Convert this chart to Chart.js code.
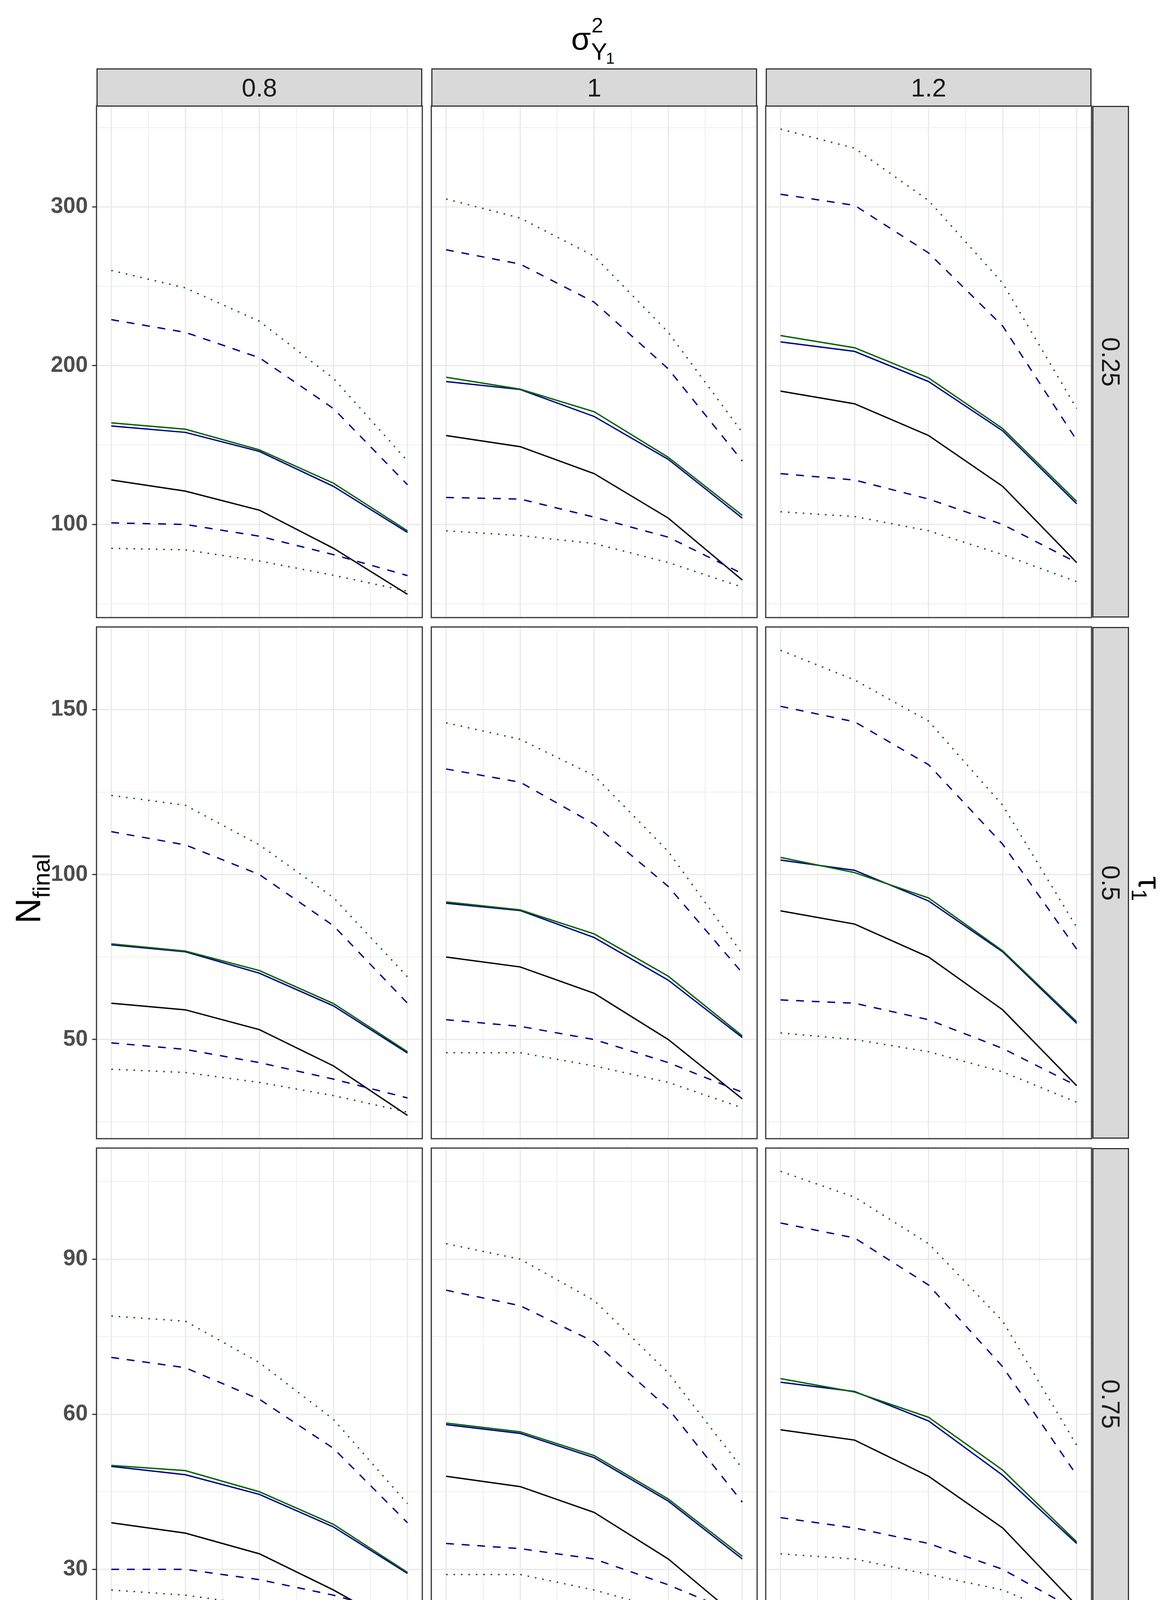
<!DOCTYPE html>
<html>
<head>
<meta charset="utf-8">
<title>N final by sigma and tau</title>
<script src="https://cdn.jsdelivr.net/npm/chart.js@4.4.1/dist/chart.umd.min.js"></script>
<style>
  html, body { margin: 0; padding: 0; background: #ffffff; }
  body { position: relative; width: 3000px; height: 4500px; overflow: hidden;
         font-family: "Liberation Sans", Arial, sans-serif; }
  #page { position: absolute; left: 0; top: 0; width: 3000px; height: 4500px; }
  .panel { position: absolute; }
  .strip { position: absolute; box-sizing: border-box; background: #d9d9d9;
           border: 3px solid #333333; color: #1a1a1a; font-size: 65px;
           display: flex; align-items: center; justify-content: center; }
  .strip.right span { display: inline-block; transform: rotate(90deg); white-space: nowrap; }
  .glyph { position: absolute; line-height: 1; white-space: nowrap; color: #000000; }
  .rot { position: absolute; white-space: nowrap; line-height: 1; color: #000000; }
</style>
</head>
<body>
<div id="page"></div>
<script>
const page = document.getElementById('page');

// facet labels
const colLabels = ['0.8', '1', '1.2'];   // sigma^2_Y1
const rowLabels = ['0.25', '0.5', '0.75']; // tau_1

// x values and tick positions
const xValues = [0, 0.2, 0.4, 0.6, 0.8];
const xTickValues = [0, 0.1, 0.2, 0.3, 0.4, 0.5, 0.6, 0.7, 0.8];
const yTickValues = [
    [50, 100, 150, 200, 250, 300, 350],
    [25, 50, 75, 100, 125, 150, 175],
    [15, 30, 45, 60, 75, 90, 105]
];
const yMajorStep = [100, 50, 30];

// series values, one row of 5 per panel (row by row: tau 0.25 / 0.5 / 0.75, columns sigma 0.8 / 1 / 1.2)
const blackSolid = [
    [128, 121, 109, 85, 56],
    [156, 149, 132, 104, 65],
    [184, 176, 156, 124, 76],
    [61, 59, 53, 42, 27],
    [75, 72, 64, 50, 32],
    [89, 85, 75, 59, 36],
    [39, 37, 33, 26, 18],
    [48, 46, 41, 32, 20],
    [57, 55, 48, 38, 23]
];
const blueSolid = [
    [162, 158, 146, 124, 95],
    [190, 185, 168, 141, 104],
    [215, 209, 190, 159, 113],
    [78.7, 76.6, 70.1, 60.2, 45.9],
    [91.3, 89.1, 80.9, 68, 50.6],
    [104.4, 101.3, 92, 76.6, 54.9],
    [49.9, 48.3, 44.5, 38.2, 29.2],
    [58, 56.3, 51.6, 43.2, 32],
    [66.2, 64.4, 58.7, 48.2, 35]
];
const greenSolid = [
    [164, 160, 147, 126, 96],
    [192.7, 185.2, 171, 142.3, 105.7],
    [219, 211.3, 192.3, 160.4, 114.5],
    [79, 76.8, 70.9, 60.9, 46.3],
    [91.7, 89.3, 82, 69.2, 51.1],
    [105.2, 100.6, 92.9, 76.9, 55.4],
    [50.1, 49.1, 45, 38.7, 29.4],
    [58.3, 56.6, 52, 43.6, 32.5],
    [66.9, 64.3, 59.4, 49.2, 35.3]
];
const blueDashUpper = [
    [229, 221, 205, 173, 125],
    [273, 264, 240, 198, 140],
    [308, 301, 271, 225, 153],
    [113, 109, 100, 84.5, 61],
    [132, 128, 115.3, 96.4, 70.2],
    [151, 146.3, 133.3, 109.2, 77.4],
    [71, 69, 62.9, 53.4, 39],
    [84, 81, 74, 61.1, 43],
    [97, 94.1, 85, 69.2, 48.2]
];
const blueDashLower = [
    [101, 100, 92.6, 81, 67.8],
    [117, 116, 104.6, 92, 69],
    [132, 128, 116, 100, 76],
    [49, 47, 43, 38, 32.3],
    [56, 54, 50, 43, 34],
    [62, 61, 56, 47.3, 36],
    [30, 30, 28, 25, 21],
    [35, 34, 32, 27, 21],
    [40, 38, 35, 30, 22]
];
const greenDotUpper = [
    [260, 249, 228, 192, 140],
    [305, 293, 269, 221, 158],
    [349, 337, 304, 252, 173],
    [124, 121, 109, 93, 69],
    [146, 141, 130, 107, 76],
    [168, 159, 146.5, 121, 84],
    [79, 78, 70, 59, 42.7],
    [93, 90, 82, 68, 49.5],
    [107, 102, 93, 78, 54]
];
const greenDotLower = [
    [85, 84, 77, 68, 58],
    [96, 93, 88, 76, 60.5],
    [108, 105, 96, 81, 64],
    [41, 40, 37, 33, 28],
    [46, 46, 42, 37, 29.3],
    [52, 50, 46.3, 40.2, 31],
    [26, 25, 23, 21, 17],
    [29, 29, 26, 22, 18],
    [33, 32, 29, 26, 20]
];

// line styles
const DARKGREEN = '#006400';
const DARKBLUE = '#00008b';
const DASHED = [20, 20];
const DOTTED = [4, 15];
const seriesList = [
    { values: greenDotUpper, color: DARKGREEN, dash: DOTTED },
    { values: greenDotLower, color: DARKGREEN, dash: DOTTED },
    { values: blueDashUpper, color: DARKBLUE, dash: DASHED },
    { values: blueDashLower, color: DARKBLUE, dash: DASHED },
    { values: greenSolid, color: DARKGREEN, dash: [] },
    { values: blueSolid, color: DARKBLUE, dash: [] },
    { values: blackSolid, color: '#000000', dash: [] }
];

// page layout (pixels)
const PANEL_X = [247, 1104, 1960];
const PANEL_Y = [271, 1605, 2939];
const PANEL_W = 834;
const PANEL_H = 1310;
const Y_AXIS_W = 140;
const X_AXIS_H = 110;
const M = 4; // room for the panel border stroke

// y range of a facet row, expanded 5% like ggplot
function rowRange(r) {
    let lo = Infinity, hi = -Infinity;
    seriesList.forEach(s => {
        for (let c = 0; c < 3; c++) {
            s.values[r * 3 + c].forEach(v => { lo = Math.min(lo, v); hi = Math.max(hi, v); });
        }
    });
    const pad = (hi - lo) * 0.05;
    return [lo - pad, hi + pad];
}

const isMajorX = v => Math.round(v * 10) % 2 === 0;

// panel border drawn on top of everything
const panelBox = {
    id: 'panelBox',
    afterDraw(chart) {
        const { ctx, chartArea: a } = chart;
        ctx.save();
        ctx.strokeStyle = '#333333';
        ctx.lineWidth = 3;
        ctx.strokeRect(a.left, a.top, a.right - a.left, a.bottom - a.top);
        ctx.restore();
    }
};

const tickFont = { family: 'Liberation Sans', size: 57, weight: 'bold', lineHeight: 1 };

function makePanel(r, c) {
    const yw = c === 0 ? Y_AXIS_W : 0;
    const xh = r === 2 ? X_AXIS_H : 0;
    const div = document.createElement('div');
    div.className = 'panel';
    div.style.left = (PANEL_X[c] - M - yw) + 'px';
    div.style.top = (PANEL_Y[r] - M) + 'px';
    div.style.width = (PANEL_W + yw + 2 * M) + 'px';
    div.style.height = (PANEL_H + xh + 2 * M) + 'px';
    const canvas = document.createElement('canvas');
    div.appendChild(canvas);
    page.appendChild(div);

    const [yMin, yMax] = rowRange(r);
    const step = yMajorStep[r];

    new Chart(canvas, {
        type: 'line',
        data: {
            datasets: seriesList.map(s => ({
                data: xValues.map((x, i) => ({ x: x, y: s.values[r * 3 + c][i] })),
                borderColor: s.color,
                borderWidth: 3.5,
                borderDash: s.dash,
                borderCapStyle: 'butt',
                pointRadius: 0,
                tension: 0,
                fill: false
            }))
        },
        options: {
            responsive: true,
            maintainAspectRatio: false,
            animation: false,
            devicePixelRatio: 1,
            events: [],
            layout: { padding: M },
            plugins: { legend: { display: false }, tooltip: { enabled: false } },
            scales: {
                x: {
                    type: 'linear',
                    bounds: 'data',
                    min: -0.04,
                    max: 0.84,
                    afterBuildTicks: ax => { ax.ticks = xTickValues.map(v => ({ value: v })); },
                    afterFit: ax => { ax.height = xh; ax.paddingLeft = 0; ax.paddingRight = 0; },
                    border: { display: false },
                    grid: {
                        color: '#ebebeb',
                        lineWidth: ctx => isMajorX(ctx.tick.value) ? 3.5 : 1.8,
                        drawTicks: r === 2,
                        tickLength: 11,
                        tickWidth: 3,
                        tickColor: ctx => isMajorX(ctx.tick.value) ? '#333333' : 'rgba(0,0,0,0)'
                    },
                    ticks: {
                        display: r === 2,
                        autoSkip: false,
                        maxRotation: 0,
                        padding: 3,
                        color: '#4d4d4d',
                        font: tickFont,
                        callback: v => isMajorX(v) ? v.toFixed(1) : ''
                    }
                },
                y: {
                    type: 'linear',
                    bounds: 'data',
                    min: yMin,
                    max: yMax,
                    afterBuildTicks: ax => { ax.ticks = yTickValues[r].map(v => ({ value: v })); },
                    afterFit: ax => { ax.width = yw; ax.paddingTop = 0; ax.paddingBottom = 0; },
                    border: { display: false },
                    grid: {
                        color: '#ebebeb',
                        lineWidth: ctx => ctx.tick.value % step === 0 ? 3.5 : 1.8,
                        drawTicks: c === 0,
                        tickLength: 11,
                        tickWidth: 3,
                        tickColor: ctx => ctx.tick.value % step === 0 ? '#333333' : 'rgba(0,0,0,0)'
                    },
                    ticks: {
                        display: c === 0,
                        autoSkip: false,
                        padding: 11,
                        color: '#4d4d4d',
                        font: tickFont,
                        callback: v => v % step === 0 ? String(v) : ''
                    }
                }
            }
        },
        plugins: [panelBox]
    });
}

for (let r = 0; r < 3; r++) {
    for (let c = 0; c < 3; c++) makePanel(r, c);
}

// facet strips
colLabels.forEach((lab, c) => {
    const s = document.createElement('div');
    s.className = 'strip';
    s.style.left = PANEL_X[c] + 'px';
    s.style.top = '175px';
    s.style.width = PANEL_W + 'px';
    s.style.height = '98px';
    s.textContent = lab;
    page.appendChild(s);
});
rowLabels.forEach((lab, r) => {
    const s = document.createElement('div');
    s.className = 'strip right';
    s.style.left = '2796px';
    s.style.top = PANEL_Y[r] + 'px';
    s.style.width = '94px';
    s.style.height = PANEL_H + 'px';
    const t = document.createElement('span');
    t.textContent = lab;
    s.appendChild(t);
    page.appendChild(s);
});

// one glyph placed by its baseline
function glyph(text, size, left, baseline) {
    const g = document.createElement('div');
    g.className = 'glyph';
    g.style.fontSize = size + 'px';
    g.style.left = left + 'px';
    g.style.top = (baseline - 0.8465 * size) + 'px';
    g.textContent = text;
    page.appendChild(g);
}

// top title: sigma^2 with subscript Y1
glyph('σ', 82, 1462, 127);
glyph('2', 54, 1514, 83);
glyph('Y', 62, 1513, 153);
glyph('1', 40, 1551, 163);

// bottom title: tau^2 with subscript Y1
glyph('τ', 82, 1468, 4438);
glyph('2', 54, 1509, 4397);
glyph('Y', 62, 1508, 4467);
glyph('1', 40, 1547, 4477);

// left title N_final
const yTitle = document.createElement('div');
yTitle.className = 'rot';
yTitle.innerHTML = '<span style="font-size:90px">N</span><span style="font-size:62px;position:relative;top:24px">final</span>';
yTitle.style.left = '72px';
yTitle.style.top = '2275px';
yTitle.style.transform = 'translate(-50%, -50%) rotate(-90deg)';
page.appendChild(yTitle);

// right title tau_1
const rTitle = document.createElement('div');
rTitle.className = 'rot';
rTitle.innerHTML = '<span style="font-size:82px">τ</span><span style="font-size:55px;position:relative;top:18px">1</span>';
rTitle.style.left = '2943px';
rTitle.style.top = '2275px';
rTitle.style.transform = 'translate(-50%, -50%) rotate(90deg)';
page.appendChild(rTitle);
</script>
</body>
</html>
